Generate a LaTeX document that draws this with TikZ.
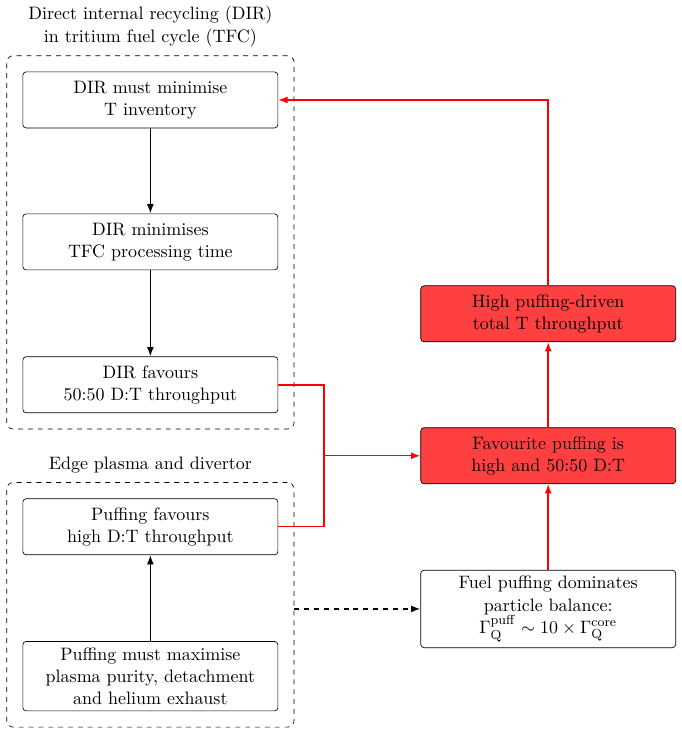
\documentclass[tikz,border=0pt,11pt]{standalone}
\usepackage{amsmath,amssymb}
\usepackage{xcolor}
\usepackage{tikz}
\usetikzlibrary{arrows.meta,positioning,calc,fit}

\begin{document}
\begin{tikzpicture}[
    blk/.style={draw,rounded corners=2pt,minimum width=5.46cm,minimum height=1.2cm,
                align=center,fill=white},
    hot/.style={blk,fill=red!75},
    grp/.style={draw,dashed,rounded corners=4pt,inner sep=0.34cm},
    line/.style={-{Latex[length=2mm]},line width=0.9pt},
    rline/.style={-{Latex[length=2mm]},line width=0.9pt,red},
    fline/.style={line width=0.9pt,red},
    title/.style={align=center}
]
\useasboundingbox (0,0) rectangle (14.60,-15.74);

% DIR / tritium fuel cycle side
\node[blk] (MinT) at (3.22,-2.14) {DIR must minimise\\T inventory};
\node[blk] (MinTime) at (3.22,-5.18) {DIR minimises\\TFC processing time};
\node[blk] (FavDIR) at (3.22,-8.24) {DIR favours\\50:50 D:T throughput};
\draw[line] (MinT) -- (MinTime);
\draw[line] (MinTime) -- (FavDIR);

% Edge plasma side
\node[blk] (FavPuff) at (3.22,-11.28) {Puffing favours\\high D:T throughput};
\node[blk,minimum height=1.48cm] (MaxPuff) at (3.22,-14.48)
    {Puffing must maximise\\plasma purity, detachment\\and helium exhaust};
\draw[line] (MaxPuff) -- (FavPuff);

% Groups
\node[grp,fit=(MinT)(FavDIR)] (GDIR) {};
\node[title,above=0.05cm of GDIR] {Direct internal recycling (DIR)\\in tritium fuel cycle (TFC)};
\node[grp,fit=(FavPuff)(MaxPuff)] (GEdge) {};
\node[title,above=0.05cm of GEdge] {Edge plasma and divertor};

% Right column
\node[hot] (High) at (11.74,-6.72) {High puffing-driven\\total T throughput};
\node[hot] (Fav) at (11.74,-9.76) {Favourite puffing is\\high and 50:50 D:T};
\node[blk,minimum height=1.64cm] (Fuel) at (11.74,-13.04)
    {Fuel puffing dominates\\particle balance:\\$\Gamma_{\mathrm{Q}}^{\mathrm{puff}}\sim 10\times\Gamma_{\mathrm{Q}}^{\mathrm{core}}$};

% Red chain
\coordinate (join) at (6.94,-9.76);
\draw[fline] (FavDIR.east) -| (join);
\draw[fline] (FavPuff.east) -| (join);
\draw[rline] (join) -- (Fav.west);
\draw[rline] (Fuel) -- (Fav);
\draw[rline] (Fav) -- (High);
\draw[rline] (High.north) |- (MinT.east);

% Dashed link
\draw[line,dashed] (GEdge.east |- Fuel.west) -- (Fuel.west);

\end{tikzpicture}
\end{document}
